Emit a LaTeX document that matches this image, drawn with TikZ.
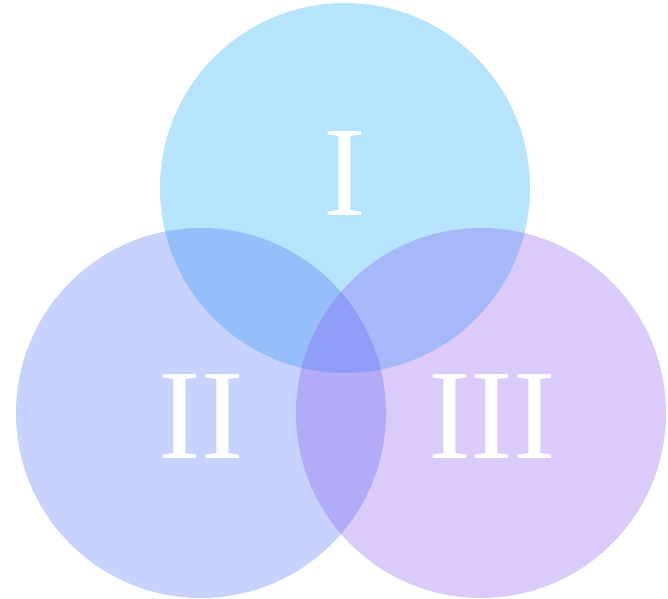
\documentclass[tikz,border=0pt]{standalone}
\usepackage{fontspec}
\setmainfont{Liberation Serif}
\usepackage{xcolor}
\usepackage{tikz}
\usetikzlibrary{positioning}
\definecolor{vennblue}{RGB}{18,165,248}
\definecolor{vennindigo}{RGB}{71,105,248}
\definecolor{vennviolet}{RGB}{131,82,238}

\begin{document}
\begin{tikzpicture}[
  x=1pt, y=1pt,
  set/.style={circle, fill=#1, fill opacity=0.3, minimum size=370pt, inner sep=0pt},
  numeral/.style={text=white, font=\fontsize{128}{128}\selectfont, anchor=base}
]
\useasboundingbox (0,0) rectangle (668,598);
\node[set=vennblue]   (one)   at (345,410) {};
\node[set=vennindigo] (two)   at (201,185) {};
\node[set=vennviolet] (three) at (481,185) {};
\node[numeral] (lone)   at (345,383) {I};
\node[numeral] (ltwo)   at (201,140) {II};
\node[numeral] (lthree) at (492,140) {III};
\end{tikzpicture}
\end{document}
